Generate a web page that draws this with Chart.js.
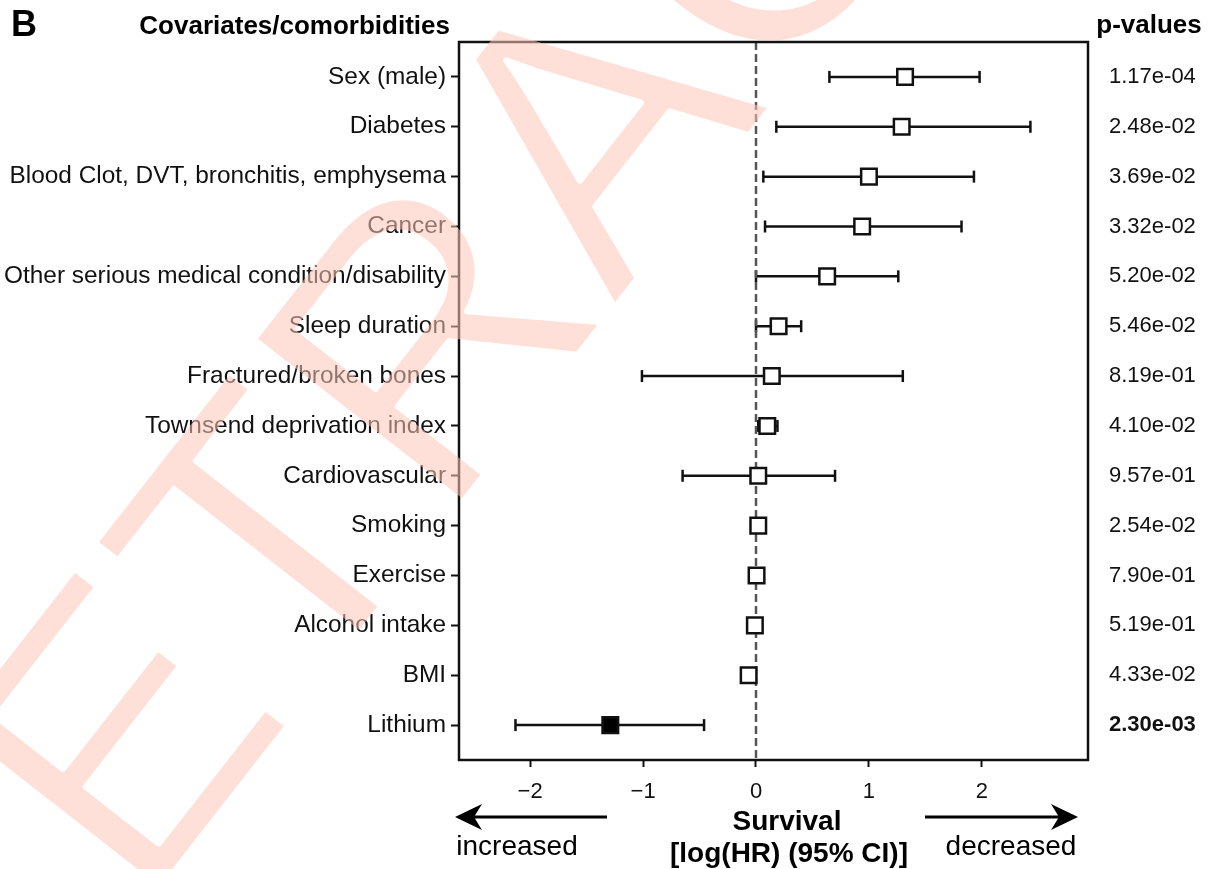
<!DOCTYPE html>
<html lang="en">
<head>
    <meta charset="UTF-8">
    <title>Forest plot - survival log(HR)</title>
    <script src="https://cdn.jsdelivr.net/npm/chart.js"></script>
    <style>
        html, body { margin: 0; padding: 0; background: #fff; }
    </style>
</head>
<body>
    <canvas id="myChart" width="1208" height="869"></canvas>

    <script>
        // Data (top row first)
        const covariates = [
            'Sex (male)', 'Diabetes', 'Blood Clot, DVT, bronchitis, emphysema', 'Cancer',
            'Other serious medical condition/disability', 'Sleep duration', 'Fractured/broken bones',
            'Townsend deprivation index', 'Cardiovascular', 'Smoking', 'Exercise',
            'Alcohol intake', 'BMI', 'Lithium'
        ];
        const logHR   = [1.32, 1.29, 1.00, 0.94, 0.63, 0.20, 0.14, 0.10, 0.02, 0.02, 0.005, -0.01, -0.065, -1.29];
        const ciLower = [0.65, 0.18, 0.065, 0.08, 0.00, 0.00, -1.01, 0.02, -0.65, 0.00, -0.015, -0.03, -0.085, -2.13];
        const ciUpper = [1.98, 2.43, 1.93, 1.82, 1.26, 0.40, 1.30, 0.19, 0.70, 0.04, 0.025, 0.01, -0.045, -0.46];
        const pValues = [
            '1.17e-04', '2.48e-02', '3.69e-02', '3.32e-02', '5.20e-02', '5.46e-02', '8.19e-01',
            '4.10e-02', '9.57e-01', '2.54e-02', '7.90e-01', '5.19e-01', '4.33e-02', '2.30e-03'
        ];
        const xTicks = [-2, -1, 0, 1, 2];
        const highlighted = ['Lithium'];   // significant row, drawn filled and bold

        const FONT = '"Liberation Sans", Arial, Helvetica, sans-serif';
        Chart.defaults.font.family = FONT;
        Chart.defaults.color = '#111';

        const rowTicks = axis => { axis.ticks = covariates.map((_, i) => ({ value: i })); };

        // one dataset per row for the CI whiskers
        const whiskers = covariates.map((name, i) => ({
            label: name + ' CI',
            data: [{ x: ciLower[i], y: i }, { x: ciUpper[i], y: i }],
            showLine: true,
            borderColor: '#111',
            borderWidth: 2.5,
            pointStyle: 'line',
            rotation: 90,
            pointRadius: 6,
            pointBorderWidth: 2.5,
            pointBorderColor: '#111'
        }));

        const datasets = [
            {
                label: 'log(HR)',
                data: logHR.map((v, i) => ({ x: v, y: i })),
                pointStyle: 'rect',
                pointRadius: 11,
                pointBorderWidth: 2.5,
                pointBorderColor: '#111',
                pointBackgroundColor: covariates.map(c => highlighted.includes(c) ? '#000' : '#fff')
            },
            {
                label: 'zero',
                data: [{ x: 0, y: -0.7 }, { x: 0, y: 13.7 }],
                showLine: true,
                borderColor: '#555',
                borderWidth: 2.5,
                borderDash: [8, 4],
                pointRadius: 0
            },
            ...whiskers
        ];

        // the diagonal RETRACTED stamp, drawn on its own canvas and thinned a little
        function drawStamp(ctx, w, h) {
            const c = document.createElement('canvas');
            c.width = w; c.height = h;
            const s = c.getContext('2d');
            s.translate(-31, 1134);
            s.rotate(-52 * Math.PI / 180);
            s.font = '385px ' + FONT;
            s.fillStyle = '#000';
            s.fillText('RETRACTED', 0, 0);
            s.globalCompositeOperation = 'destination-out';
            s.lineJoin = 'round';
            s.lineWidth = 6;
            s.strokeText('RETRACTED', 0, 0);
            s.setTransform(1, 0, 0, 1, 0, 0);
            s.globalCompositeOperation = 'source-in';
            s.fillStyle = 'rgb(255, 200, 185)';
            s.fillRect(0, 0, w, h);
            ctx.save();
            ctx.globalAlpha = 0.55;
            ctx.drawImage(c, 0, 0);
            ctx.restore();
        }

        // box, header texts, axis title, arrows and the stamp
        const decorations = {
            id: 'decorations',
            beforeDraw(chart) {
                const ctx = chart.ctx;
                ctx.save();
                ctx.fillStyle = '#fff';
                ctx.fillRect(0, 0, chart.width, chart.height);
                ctx.restore();
            },
            afterDatasetsDraw(chart) {
                const { ctx, chartArea: a } = chart;
                ctx.save();
                ctx.strokeStyle = '#111';
                ctx.lineWidth = 2.5;
                ctx.strokeRect(a.left, a.top, a.right - a.left, a.bottom - a.top);
                ctx.restore();
            },
            afterDraw(chart) {
                const ctx = chart.ctx;
                ctx.save();
                ctx.fillStyle = '#000';
                ctx.textBaseline = 'alphabetic';

                ctx.font = 'bold 36px ' + FONT;
                ctx.textAlign = 'left';
                ctx.fillText('B', 11, 36);

                ctx.font = 'bold 26px ' + FONT;
                ctx.textAlign = 'right';
                ctx.fillText('Covariates/comorbidities', 450, 34);
                ctx.textAlign = 'center';
                ctx.fillText('p-values', 1149, 33);

                ctx.font = 'bold 28px ' + FONT;
                ctx.fillText('Survival', 787, 830);
                ctx.fillText('[log(HR) (95% CI)]', 789, 862);

                ctx.font = '28px ' + FONT;
                ctx.fillText('increased', 517, 855);
                ctx.fillText('decreased', 1011, 855);

                const arrow = (x0, x1, y) => {
                    const dir = Math.sign(x1 - x0);
                    ctx.strokeStyle = '#000';
                    ctx.lineWidth = 3;
                    ctx.beginPath();
                    ctx.moveTo(x0, y);
                    ctx.lineTo(x1 - dir * 18, y);
                    ctx.stroke();
                    ctx.beginPath();
                    ctx.moveTo(x1, y);
                    ctx.lineTo(x1 - dir * 27, y - 13);
                    ctx.lineTo(x1 - dir * 19, y);
                    ctx.lineTo(x1 - dir * 27, y + 13);
                    ctx.closePath();
                    ctx.fill();
                };
                arrow(607, 455, 817);
                arrow(925, 1078, 817);
                ctx.restore();

                drawStamp(ctx, chart.width, chart.height);
            }
        };

        const ctx = document.getElementById('myChart').getContext('2d');
        new Chart(ctx, {
            type: 'scatter',
            data: { datasets: datasets },
            options: {
                responsive: false,
                animation: false,
                devicePixelRatio: 1,
                layout: { padding: { top: 42 } },
                scales: {
                    x: {
                        type: 'linear',
                        min: -2.63,
                        max: 2.94,
                        afterBuildTicks: axis => { axis.ticks = xTicks.map(v => ({ value: v })); },
                        afterFit: axis => { axis.height = 109; },
                        ticks: {
                            font: { size: 22 },
                            padding: 12,
                            callback: v => (v < 0 ? '\u2212' + Math.abs(v) : String(v))
                        },
                        grid: { drawOnChartArea: false, tickLength: 7, tickWidth: 2, tickColor: '#111' },
                        border: { display: false }
                    },
                    y: {
                        type: 'linear',
                        position: 'left',
                        reverse: true,
                        min: -0.7,
                        max: 13.7,
                        afterBuildTicks: rowTicks,
                        afterFit: axis => { axis.width = 459; },
                        ticks: {
                            autoSkip: false,
                            font: { size: 24.4 },
                            padding: 5,
                            callback: (v, i) => covariates[i]
                        },
                        grid: { drawOnChartArea: false, tickLength: 8, tickWidth: 2, tickColor: '#111' },
                        border: { display: false }
                    },
                    pv: {
                        type: 'linear',
                        position: 'right',
                        reverse: true,
                        min: -0.7,
                        max: 13.7,
                        afterBuildTicks: rowTicks,
                        afterFit: axis => { axis.width = 120; },
                        ticks: {
                            autoSkip: false,
                            padding: 21,
                            font: c => ({ size: 22, weight: highlighted.includes(covariates[c.index]) ? 'bold' : 'normal' }),
                            callback: (v, i) => pValues[i]
                        },
                        grid: { display: false, drawTicks: false },
                        border: { display: false }
                    }
                },
                plugins: {
                    legend: { display: false },
                    tooltip: { enabled: false }
                }
            },
            plugins: [decorations]
        });
    </script>
</body>
</html>
